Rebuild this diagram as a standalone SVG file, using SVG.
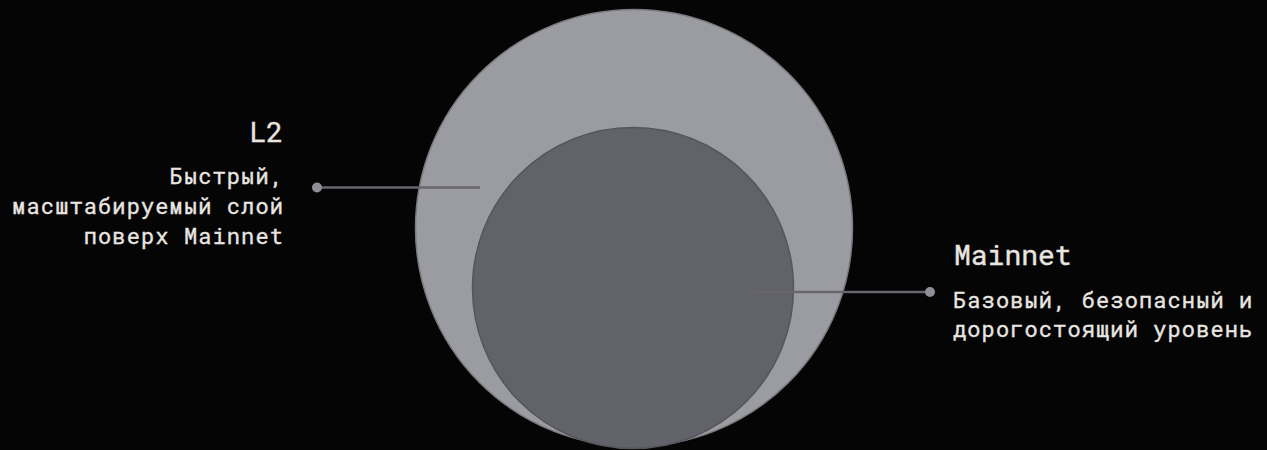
<svg xmlns="http://www.w3.org/2000/svg" width="1267" height="450" viewBox="0 0 1267 450">
  <style>
    .title { font-family: "Roboto Mono", "Liberation Mono", "DejaVu Sans Mono", monospace; font-size: 28px; fill: #e9e5e1; stroke: #e9e5e1; stroke-width: 0.4px; }
    .body { font-family: "Roboto Mono", "Liberation Mono", "DejaVu Sans Mono", monospace; font-size: 22px; fill: #e9e5e1; stroke: #e9e5e1; stroke-width: 0.35px; letter-spacing: 1.1px; }
    .conn { stroke: #66666c; stroke-width: 2.5; fill: none; }
    .dot { fill: #8e8e94; }
  </style>
  <rect width="1267" height="450" fill="#050505"/>
  <g id="l2-circle">
    <circle cx="634" cy="228" r="218.5" fill="#9b9ca1" stroke="#7a7a80" stroke-width="1.5"/>
  </g>
  <g id="mainnet-circle">
    <circle cx="633" cy="288" r="160.5" fill="#62626a" stroke="#55555b" stroke-width="1.5"/>
  </g>
  <g id="connectors">
    <line class="conn" x1="317" y1="187.5" x2="480" y2="187.5"/>
    <circle class="dot" cx="317" cy="187.5" r="5"/>
    <line class="conn" x1="754" y1="292" x2="930" y2="292"/>
    <circle class="dot" cx="930" cy="292" r="5"/>
  </g>
  <g id="l2-label">
    <text class="title" x="283" y="142" text-anchor="end">L2</text>
    <text class="body" x="284" y="184" text-anchor="end">Быстрый,</text>
    <text class="body" x="284" y="214" text-anchor="end">масштабируемый слой</text>
    <text class="body" x="284" y="244" text-anchor="end">поверх Mainnet</text>
  </g>
  <g id="mainnet-label">
    <text class="title" x="954" y="265">Mainnet</text>
    <text class="body" x="953" y="308">Базовый, безопасный и</text>
    <text class="body" x="953" y="337">дорогостоящий уровень</text>
  </g>
</svg>
